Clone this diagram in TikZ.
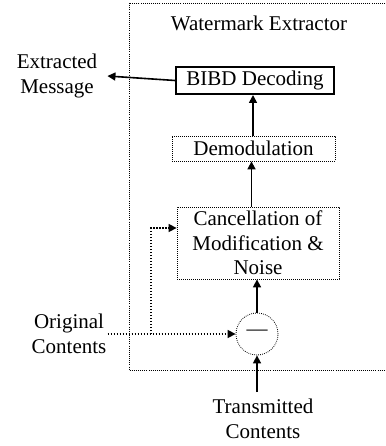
\documentclass[tikz,border=0pt]{standalone}
\usepackage{fontspec}
\setmainfont{Liberation Serif}
\usetikzlibrary{arrows.meta,calc}
\begin{document}
\begin{tikzpicture}[x=1pt,y=-1pt,
  font=\fontsize{21}{24.5}\selectfont,
  txt/.style={align=center,inner sep=0pt},
  dotbox/.style={draw,line width=0.8pt,dash pattern=on 0.8pt off 1.2pt,inner sep=0pt,align=center},
  solidarrow/.style={line width=1.6pt,-{Triangle[length=8pt,width=8pt]}},
  dotarrow/.style={line width=1.5pt,dash pattern=on 1.5pt off 1.5pt,-{Triangle[length=8pt,width=8pt]}}]
\useasboundingbox (0,0) rectangle (385,446);
% outer frame
\draw[line width=0.9pt,dash pattern=on 0.9pt off 1.2pt] (385,3) -- (129,3) -- (129,370) -- (385,370);
\node[txt] (title) at (259,23) {Watermark Extractor};
\node[draw,line width=2pt,minimum width=158pt,minimum height=27pt,inner sep=0pt] (bibd) at (255,80.5) {BIBD Decoding};
\node[dotbox,minimum width=163pt,minimum height=25pt] (demod) at (253.5,148.5) {Demodulation};
\node[dotbox,minimum width=162pt,minimum height=72pt] (cancel) at (258,243) {Cancellation of\\Modification \&\\Noise};
\node[draw,circle,line width=0.8pt,dash pattern=on 0.8pt off 1.2pt,minimum size=42pt,inner sep=0pt] (circ) at (257,334) {};
\node[txt] (minus) at (257,333) {—};
\node[txt,inner xsep=10pt] (extr) at (57,76) {Extracted\\Message};
\node[txt,inner xsep=1pt] (orig) at (69,334) {Original\\Contents};
\node[txt] (trans) at (263,419) {Transmitted\\Contents};
% connectors
\draw[solidarrow] (bibd.west) -- (extr.east);
\draw[solidarrow] (demod.north -| 253,0) -- (bibd.south -| 253,0);
\draw[solidarrow] (cancel.north -| 251.5,0) -- (demod.south -| 251.5,0);
\draw[solidarrow] (circ.north) -- (cancel.south -| circ);
\draw[solidarrow] ($(circ |- trans.north)+(0,-7)$) -- (circ.south);
\draw[dotarrow] (orig.east) -- (circ.west);
\coordinate (br) at (151,334);
\draw[dotarrow] (br) |- ([yshift=15pt]cancel.west);
\end{tikzpicture}
\end{document}
